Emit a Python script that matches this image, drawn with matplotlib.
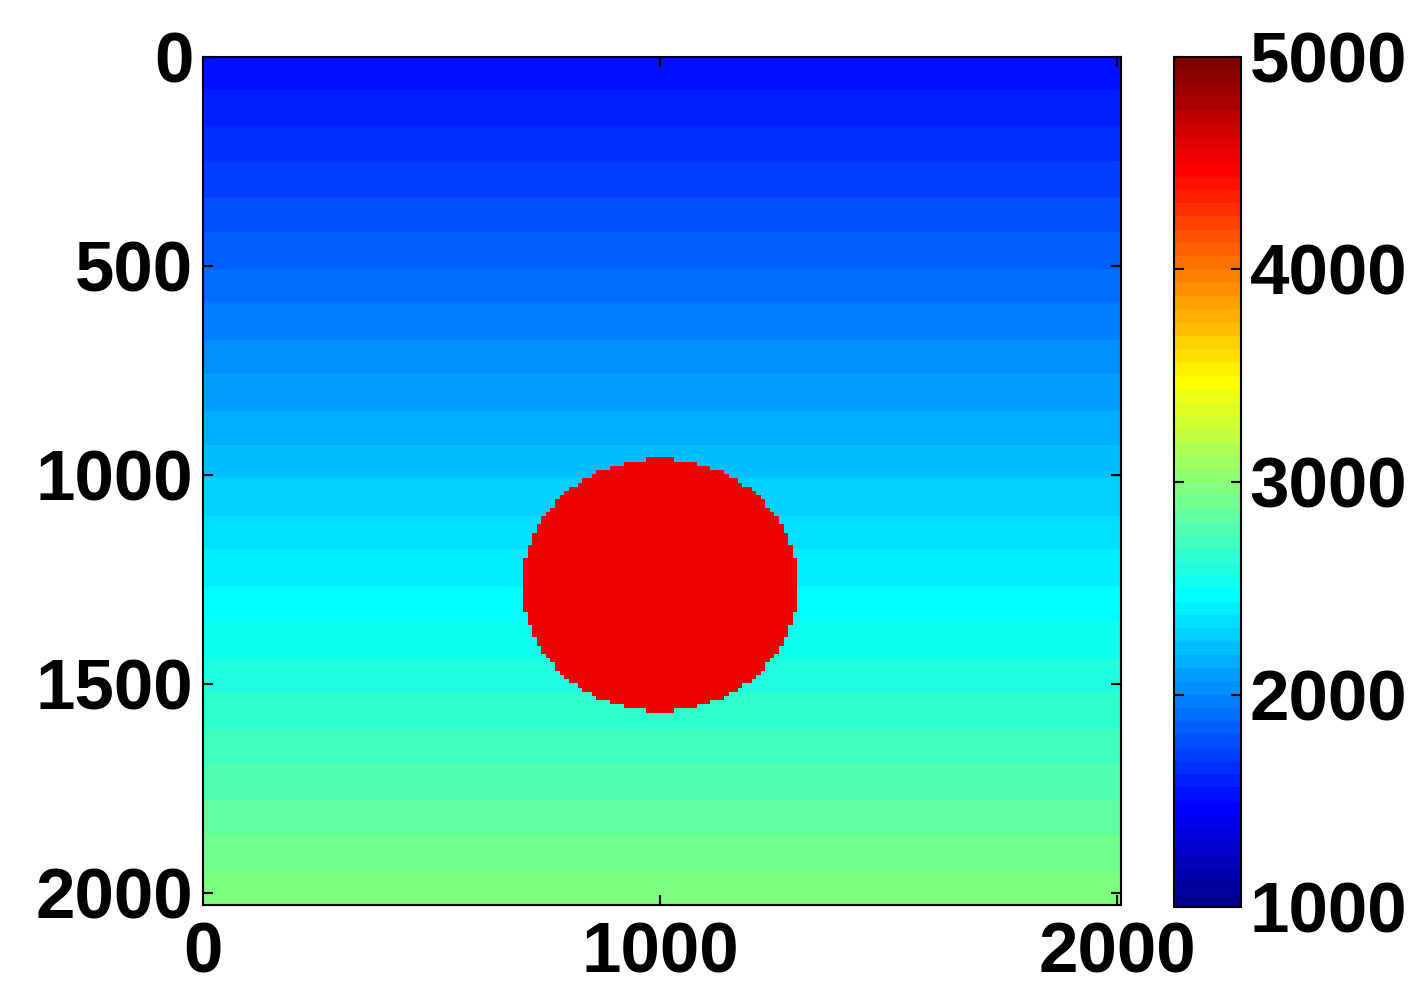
import numpy as np
import matplotlib
matplotlib.use("Agg")
import matplotlib.pyplot as plt
from matplotlib.colors import ListedColormap

# model
dx = 10.0
x_max = 2008.0
z_max = 2030.0
v_top = 1500.0
v_bottom = 3000.0
circle_x = 1000.0
circle_z = 1265.0
circle_r = 302.0
v_circle = 4520.0

x_ticks = [0, 1000, 2000]
z_ticks = [0, 500, 1000, 1500, 2000]
cbar_ticks = [1000, 2000, 3000, 4000, 5000]
v_min, v_max = 1000, 5000


def matlab_jet(m=64):
    # same construction as MATLAB's jet(m)
    n = int(np.ceil(m / 4))
    u = np.concatenate([np.arange(1, n + 1) / n, np.ones(n - 1), np.arange(n, 0, -1) / n])
    g = int(np.ceil(n / 2)) - (1 if m % 4 == 1 else 0) + np.arange(1, len(u) + 1)
    r = g + n
    b = g - n
    g = g[g <= m]
    r = r[r <= m]
    b = b[b >= 1]
    J = np.zeros((m, 3))
    J[r - 1, 0] = u[:len(r)]
    J[g - 1, 1] = u[:len(g)]
    J[b - 1, 2] = u[len(u) - len(b):]
    return ListedColormap(J)


plt.rcParams['font.family'] = ['Liberation Sans', 'DejaVu Sans']
plt.rcParams['font.weight'] = 'bold'

# build grid (cell centres)
xs = np.arange(dx / 2, x_max, dx)
zs = np.arange(dx / 2, z_max, dx)
X, Z = np.meshgrid(xs, zs)
vel = v_top + (v_bottom - v_top) * Z / z_max
inside = (X - circle_x) ** 2 + (Z - circle_z) ** 2 <= circle_r ** 2
vel[inside] = v_circle

fig = plt.figure(figsize=(14.26, 9.89), dpi=100)
ax = fig.add_axes([0.1424, 0.0849, 0.6438, 0.8575])
cax = fig.add_axes([0.8233, 0.0829, 0.047, 0.8595])

im = ax.imshow(vel, cmap=matlab_jet(64), vmin=v_min, vmax=v_max, aspect='auto',
               extent=[0, x_max, z_max, 0], interpolation='nearest')
ax.set_xlim(0, x_max)
ax.set_ylim(z_max, 0)
ax.set_xticks(x_ticks)
ax.set_yticks(z_ticks)
ax.tick_params(direction='in', length=7, width=1.5, labelsize=51,
               top=True, right=True)
ax.tick_params(axis='x', pad=12)
ax.tick_params(axis='y', pad=7)
for s in ax.spines.values():
    s.set_linewidth(1.5)

cb = fig.colorbar(im, cax=cax, ticks=cbar_ticks)
cb.ax.tick_params(direction='in', length=7, width=1.5, labelsize=51,
                  left=True, right=True, pad=6)
cb.outline.set_linewidth(1.5)

fig.savefig('out.png', dpi=100)
